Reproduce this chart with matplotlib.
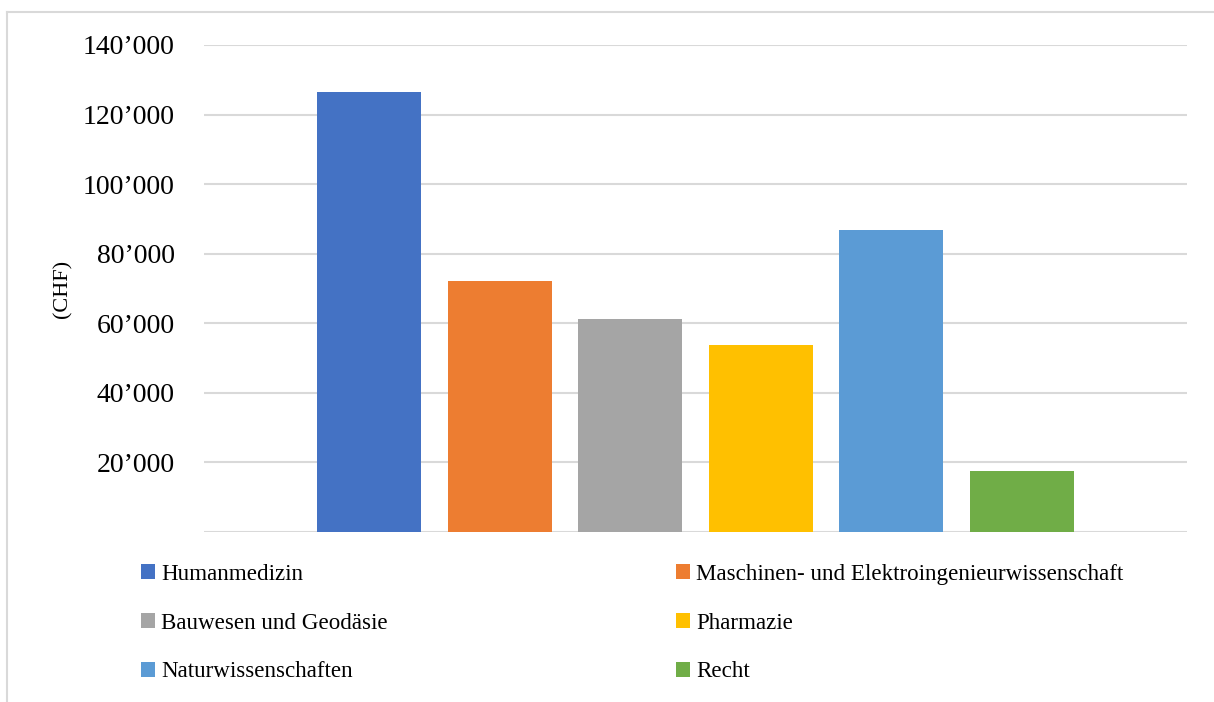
import matplotlib.pyplot as plt
from matplotlib.lines import Line2D
from matplotlib.ticker import FuncFormatter

# data
faecher = ["Humanmedizin", "Maschinen- und Elektroingenieurwissenschaft",
           "Bauwesen und Geodäsie", "Pharmazie", "Naturwissenschaften", "Recht"]
werte = [126500, 72100, 61200, 53700, 86800, 17500]
farben = ["#4472C4", "#ED7D31", "#A5A5A5", "#FFC000", "#5B9BD5", "#70AD47"]
yticks = [20000, 40000, 60000, 80000, 100000, 120000, 140000]

plt.rcParams['font.family'] = ['Liberation Serif', 'DejaVu Serif']

fig = plt.figure(figsize=(12.14, 7.02), dpi=100)
ax = fig.add_axes([204 / 1214, 1 - 532 / 702, (1187 - 204) / 1214, (532 - 45) / 702])

bars = []
for i, (name, val, col) in enumerate(zip(faecher, werte, farben)):
    b = ax.bar(i, val, width=0.796, color=col, label=name, zorder=3)
    bars.append(b)

ax.set_xlim(-1.263, 6.263)
ax.set_ylim(0, 140000)
ax.set_yticks(yticks)
ax.yaxis.set_major_formatter(FuncFormatter(lambda v, p: f"{int(v):,}".replace(",", "\u2019")))
ax.tick_params(axis='y', length=0, pad=21, labelsize=20)
ax.set_xticks([])
ax.grid(axis='y', color='#d9d9d9', linewidth=1.5, zorder=0)
for s in ax.spines.values():
    s.set_visible(False)
ax.axhline(0, color='#d9d9d9', linewidth=1.5, zorder=2)
ax.set_ylabel("(CHF)", fontsize=16)
ax.yaxis.set_label_coords(-(204 - 72) / (1187 - 204), 0.5)

# legend in two columns
kw = dict(frameon=False, fontsize=16.6, handlelength=0.62, handleheight=0.62,
          handletextpad=0.25, labelspacing=1.2, borderpad=0, borderaxespad=0,
          loc='upper left')
h = [b[0] for b in bars]
fig.legend([h[0], h[2], h[4]], [faecher[0], faecher[2], faecher[4]],
           bbox_to_anchor=(141 / 1214, 1 - 564 / 702), **kw)
fig.legend([h[1], h[3], h[5]], [faecher[1], faecher[3], faecher[5]],
           bbox_to_anchor=(676 / 1214, 1 - 564 / 702), **kw)

# chart frame (top and left edges visible)
fig.add_artist(Line2D([7 / 1214, 1.0], [1 - 12 / 702, 1 - 12 / 702], color='#d9d9d9', linewidth=1.5))
fig.add_artist(Line2D([7 / 1214, 7 / 1214], [0, 1 - 12 / 702], color='#d9d9d9', linewidth=1.5))

fig.savefig("out.png", dpi=100)
